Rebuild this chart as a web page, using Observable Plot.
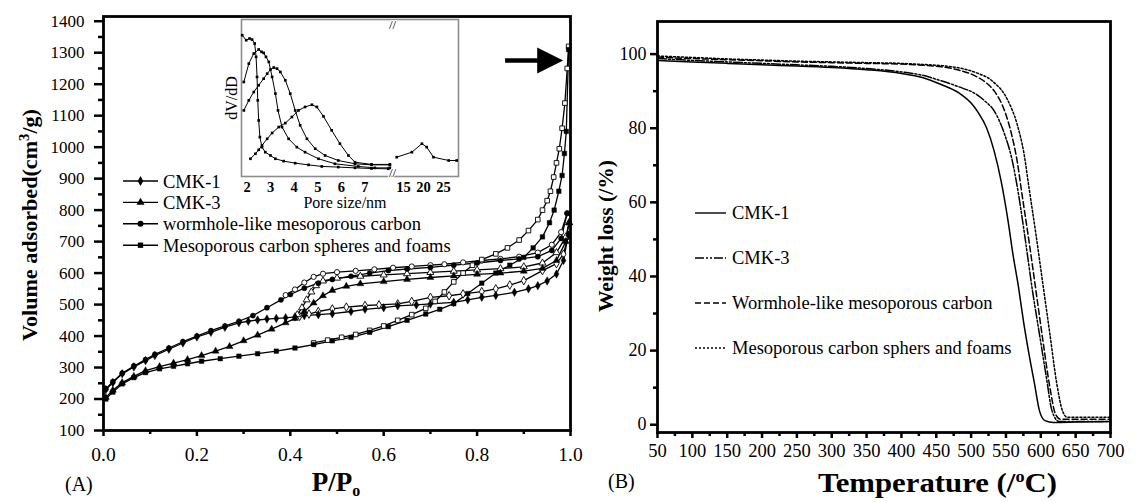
<!DOCTYPE html>
<html><head><meta charset="utf-8">
<script src="https://cdn.jsdelivr.net/npm/d3@7"></script>
<script src="https://cdn.jsdelivr.net/npm/@observablehq/plot@0.6"></script>
<style>
html,body{margin:0;padding:0;background:#fff;}
#wrap{position:relative;width:1139px;height:502px;overflow:hidden;background:#fff;}
</style></head><body><div id="wrap"></div>
<script>
// ---------- Panel A: N2 isotherms ----------
const isoNames = ["CMK-1","CMK-3","wormhole-like mesoporous carbon","Mesoporous carbon spheres and foams"];
const isoSymbols = ["diamond","triangle","circle","square"];

const cmk1AdsP = [0.005,0.02,0.04,0.065,0.09,0.11,0.14,0.17,0.2,0.23,0.26,0.29,0.31,0.33,0.35,0.37,0.39,0.41,0.43,0.46,0.49,0.53,0.56,0.6,0.63,0.67,0.7,0.75,0.78,0.81,0.84,0.88,0.91,0.93,0.95,0.97,0.985,0.995];
const cmk1AdsV = [230,252,280,302,322,338,358,378,397,412,428,442,447,451,454,456,458,461,465,468,471,478,485,490,496,499,502,507,515,523,529,539,550,560,575,597,640,720];
const cmk1DesP = [0.995,0.985,0.97,0.94,0.9,0.87,0.84,0.81,0.77,0.74,0.7,0.66,0.63,0.59,0.56,0.52,0.49,0.46,0.44,0.42];
const cmk1DesV = [720,660,630,608,576,562,550,541,534,528,523,510,502,499,497,492,486,478,470,463];

const cmk3AdsP = [0.005,0.02,0.04,0.065,0.09,0.12,0.15,0.18,0.21,0.24,0.27,0.3,0.33,0.36,0.39,0.41,0.43,0.45,0.47,0.49,0.52,0.55,0.6,0.65,0.7,0.75,0.8,0.85,0.9,0.94,0.97,0.99,0.997];
const cmk3AdsV = [205,228,252,272,290,303,314,325,338,352,367,385,403,422,442,456,478,505,528,545,558,566,573,580,586,591,596,600,606,615,640,700,760];
const cmk3DesP = [0.997,0.99,0.97,0.94,0.9,0.85,0.8,0.75,0.7,0.65,0.6,0.55,0.5,0.47,0.455,0.445,0.435,0.425,0.415];
const cmk3DesV = [760,715,665,632,620,614,610,606,602,598,594,590,584,575,560,540,515,490,468];

const wormAdsP = [0.005,0.02,0.04,0.065,0.09,0.11,0.14,0.17,0.2,0.23,0.26,0.29,0.32,0.35,0.38,0.4,0.43,0.46,0.49,0.53,0.57,0.61,0.65,0.7,0.75,0.8,0.85,0.89,0.93,0.96,0.98,0.993];
const wormAdsV = [232,255,282,305,325,342,362,382,400,417,432,447,465,490,515,532,552,568,580,590,600,608,613,618,625,632,640,645,652,672,710,790];
const wormDesP = [0.993,0.98,0.96,0.93,0.89,0.85,0.81,0.77,0.73,0.7,0.66,0.62,0.58,0.54,0.5,0.47,0.45,0.43,0.41,0.39];
const wormDesV = [790,730,690,665,652,645,640,634,628,625,621,617,612,607,603,598,588,570,548,530];

const foamAdsP = [0.005,0.02,0.04,0.065,0.09,0.12,0.15,0.18,0.21,0.25,0.29,0.33,0.37,0.41,0.45,0.49,0.53,0.57,0.61,0.65,0.69,0.72,0.75,0.78,0.81,0.84,0.87,0.9,0.92,0.94,0.955,0.965,0.975,0.982,0.987,0.991,0.996];
const foamAdsV = [200,222,248,268,284,296,304,312,320,328,336,344,352,362,373,385,396,412,430,450,470,485,503,535,568,600,625,650,680,715,760,800,860,910,980,1050,1310];
const foamDesP = [0.996,0.993,0.988,0.982,0.976,0.97,0.964,0.957,0.95,0.94,0.93,0.91,0.89,0.865,0.84,0.81,0.79,0.77,0.75,0.73,0.71,0.69,0.66,0.63,0.6,0.57,0.54,0.51,0.48,0.45];
const foamDesV = [1320,1250,1140,1060,995,950,905,860,830,800,770,735,705,680,661,643,625,600,572,540,510,488,468,450,432,418,405,396,387,378];

const xTicksA = [0,0.2,0.4,0.6,0.8,1.0];
const xMinorA = [0.1,0.3,0.5,0.7,0.9];
const yTicksA = [100,200,300,400,500,600,700,800,900,1000,1100,1200,1300,1400];
const yMinorA = [150,250,350,450,550,650,750,850,950,1050,1150,1250,1350];
const arrowP = [0.861, 0.935];   // shaft of the arrow pointing at the 1320 maximum
const arrowHeadP = 0.948;
const arrowV = 1275;

// ---------- Inset: pore size distributions ----------
const psdCmk1D = [1.79,1.96,2.10,2.21,2.32,2.38,2.42,2.45,2.49,2.54,2.63,2.77,2.99,3.20,3.55,4.04,4.61,5.17,5.87,6.58,7.28,7.99];
const psdCmk1F = [0.90,0.868,0.879,0.872,0.847,0.762,0.634,0.485,0.357,0.251,0.187,0.155,0.134,0.113,0.098,0.085,0.074,0.064,0.060,0.055,0.051,0.049];
const psdWormD = [1.86,2.07,2.28,2.49,2.61,2.70,2.80,2.92,3.06,3.20,3.31,3.48,3.76,4.11,4.46,5.03,5.73,6.72,7.42,8.06];
const psdWormF = [0.602,0.719,0.783,0.809,0.794,0.787,0.762,0.730,0.634,0.528,0.421,0.315,0.240,0.187,0.155,0.113,0.081,0.064,0.055,0.055];
const psdCmk3D = [1.86,2.07,2.28,2.49,2.70,2.85,2.99,3.13,3.27,3.41,3.62,3.83,4.04,4.25,4.54,4.89,5.31,5.87,6.58,7.28,8.06];
const psdCmk3F = [0.421,0.485,0.538,0.581,0.623,0.655,0.681,0.694,0.687,0.666,0.613,0.528,0.421,0.326,0.240,0.177,0.134,0.102,0.081,0.074,0.074];
const psdFoamD = [2.14,2.35,2.49,2.63,2.85,3.06,3.34,3.62,3.90,4.18,4.46,4.75,4.96,5.24,5.59,5.94,6.30,6.58,7.28,8.06];
const psdFoamF = [0.113,0.145,0.170,0.198,0.240,0.277,0.315,0.340,0.379,0.421,0.443,0.457,0.443,0.383,0.294,0.209,0.134,0.091,0.077,0.077];
const psdFoamLargeD = [13.3,17.1,19.6,20.8,22.5,26.3,28.3];
const psdFoamLargeF = [0.123,0.155,0.209,0.187,0.123,0.102,0.102];
const insetTicks = [2,3,4,5,6,7,15,20,25];
const insetDomain = [1.76, 8.13, 12.5, 28.75];   // broken axis: 1.76–8.13 nm | 12.5–28.75 nm

// ---------- Panel B: TGA ----------
const tgaNames = ["CMK-1","CMK-3","Wormhole-like mesoporous carbon","Mesoporous carbon sphers and foams"];
const tgaDash = ["none","9,2,2,2,2,2","6,3","2,2"];
const cmk1T = [50,100,150,200,250,300,350,400,430,457,482,500,510,522,533,543,553,560,568,575,583,591,598,606,618,650,700];
const cmk1W = [98.3,97.9,97.5,97.1,96.8,96.4,95.8,94.8,93.7,91.8,89.6,86.8,84.3,80.2,73.9,65.8,55.0,46.0,37.1,28.1,19.1,11.0,3.8,1.1,0.6,0.7,0.9];
const cmk3T = [50,100,150,200,250,300,350,400,430,457,482,507,520,533,548,558,568,578,588,598,608,616,626,650,700];
const cmk3W = [98.8,98.3,97.9,97.5,97.1,96.7,96.1,95.2,94.3,92.8,91.2,89.2,87.3,84.7,78.4,72.1,62.2,49.6,36.2,24.5,12.8,3.8,0.9,0.9,0.9];
const wormT = [50,100,150,200,250,300,350,400,432,457,482,507,520,533,548,558,566,573,583,593,603,613,621,628,650,700];
const wormW = [99.2,98.8,98.5,98.2,97.9,97.7,97.5,97.3,97.0,96.6,95.7,94.0,92.5,90.1,84.7,78.4,71.2,62.2,49.6,36.2,22.7,10.1,2.9,1.5,1.5,1.5];
const foamT = [50,100,150,200,250,300,350,400,432,457,482,507,530,553,566,576,583,593,603,613,623,631,638,660,700];
const foamW = [99.5,99.1,98.7,98.4,98.1,97.9,97.7,97.5,97.2,96.9,96.3,95.0,92.8,87.4,81.1,73.0,64.0,51.4,37.9,24.5,11.0,3.8,2.0,2.0,2.0];
const xTicksB = [50,100,150,200,250,300,350,400,450,500,550,600,650,700];
const xMinorB = [75,125,175,225,275,325,375,425,475,525,575,625,675];
const yTicksB = [0,20,40,60,80,100];
const yMinorB = [10,30,50,70,90];

// ---------- build tables ----------
const SERIF = "'Liberation Serif','Times New Roman',serif";
const branch = (series, kind, P, V) => P.map((p, i) => ({series, branch: kind, key: series + "|" + kind, p, v: V[i]}));
const isoData = [
  ...branch(isoNames[0], "ads", cmk1AdsP, cmk1AdsV), ...branch(isoNames[0], "des", cmk1DesP, cmk1DesV),
  ...branch(isoNames[1], "ads", cmk3AdsP, cmk3AdsV), ...branch(isoNames[1], "des", cmk3DesP, cmk3DesV),
  ...branch(isoNames[2], "ads", wormAdsP, wormAdsV), ...branch(isoNames[2], "des", wormDesP, wormDesV),
  ...branch(isoNames[3], "ads", foamAdsP, foamAdsV), ...branch(isoNames[3], "des", foamDesP, foamDesV)
];
const psd = (key, D, F) => D.map((d, i) => ({key, d, f: F[i]}));
const psdData = [
  ...psd("cmk1", psdCmk1D, psdCmk1F), ...psd("worm", psdWormD, psdWormF),
  ...psd("cmk3", psdCmk3D, psdCmk3F), ...psd("foam", psdFoamD, psdFoamF),
  ...psd("foamLarge", psdFoamLargeD, psdFoamLargeF)
];
const tgaSeries = [[cmk1T, cmk1W], [cmk3T, cmk3W], [wormT, wormW], [foamT, foamW]]
  .map(([T, W], k) => T.map((t, i) => ({series: tgaNames[k], t, w: W[i]})));

const arrowSymbol = {draw(ctx) { ctx.moveTo(17, 0); ctx.lineTo(-9, -13); ctx.lineTo(-9, 13); ctx.closePath(); }};
const blank = () => "";

const wrap = document.getElementById("wrap");
function place(el, left, top) {
  el.style.position = "absolute"; el.style.left = left + "px"; el.style.top = top + "px";
  wrap.appendChild(el);
}

// ---------- Panel A ----------
const plotA = Plot.plot({
  width: 580, height: 502,
  marginLeft: 103, marginRight: 10, marginTop: 16, marginBottom: 72,
  style: {fontFamily: SERIF, color: "black", background: "transparent", overflow: "visible"},
  x: {domain: [0, 1]},
  y: {domain: [100, 1415]},
  symbol: {domain: isoNames, range: isoSymbols},
  marks: [
    Plot.line(isoData, {x: "p", y: "v", z: "key", stroke: "black", strokeWidth: 1.3}),
    Plot.dot(isoData.filter(d => d.branch === "des"), {x: "p", y: "v", symbol: "series", r: 2.6, fill: "white", stroke: "black", strokeWidth: 0.9}),
    Plot.dot(isoData.filter(d => d.branch === "ads"), {x: "p", y: "v", symbol: "series", r: 2.6, fill: "black", stroke: "black", strokeWidth: 0.4}),
    Plot.ruleY([arrowV], {x1: arrowP[0], x2: arrowP[1], strokeWidth: 4.5, stroke: "black"}),
    Plot.dot([{p: arrowHeadP, v: arrowV}], {x: "p", y: "v", symbol: arrowSymbol, fill: "black", stroke: "none"}),
    Plot.axisX({ticks: xTicksA, tickSize: 6, tickPadding: 11, strokeWidth: 2.5, fontSize: 19.5, tickFormat: d3.format(".1f"), label: null}),
    Plot.axisX({ticks: xMinorA, tickSize: 4, strokeWidth: 2.5, tickFormat: blank, label: null}),
    Plot.axisY({ticks: yTicksA, tickSize: 9, tickPadding: 10, strokeWidth: 2.5, fontSize: 17, tickFormat: d3.format("d"), label: null}),
    Plot.axisY({ticks: yMinorA, tickSize: 5, strokeWidth: 2.5, tickFormat: blank, label: null}),
    Plot.frame({stroke: "black", strokeWidth: 2.8})
  ]
});
place(plotA, 0, 0);

// ---------- Inset ----------
const inset = Plot.plot({
  width: 260, height: 200,
  marginLeft: 30, marginRight: 13, marginTop: 9, marginBottom: 34,
  style: {fontFamily: SERIF, color: "black", background: "transparent", overflow: "visible"},
  x: {type: "linear", domain: insetDomain, range: [30, 180, 182, 247]},
  y: {domain: [0, 1], axis: null},
  marks: [
    Plot.frame({fill: "white", stroke: "#8c8c8c", strokeWidth: 1.6}),
    Plot.line(psdData, {x: "d", y: "f", z: "key", stroke: "black", strokeWidth: 1}),
    Plot.dot(psdData, {x: "d", y: "f", symbol: "square", r: 1.5, fill: "black"}),
    Plot.axisX({ticks: insetTicks, tickSize: 0, tickPadding: 5, fontSize: 14.5, fontWeight: "bold", label: null}),
    Plot.text([insetDomain[1]], {x: d => d, frameAnchor: "top", text: () => "//", dx: 1, fontSize: 13, fill: "black", stroke: "white", strokeWidth: 2}),
    Plot.text([insetDomain[1]], {x: d => d, frameAnchor: "bottom", text: () => "//", dx: 1, fontSize: 13, fill: "black", stroke: "white", strokeWidth: 2})
  ]
});
place(inset, 211, 10);

// ---------- Panel B ----------
const plotB = Plot.plot({
  width: 559, height: 502,
  marginLeft: 77, marginRight: 29, marginTop: 21, marginBottom: 70,
  style: {fontFamily: SERIF, color: "black", background: "transparent", overflow: "visible"},
  x: {domain: [50, 700]},
  y: {domain: [-2.1, 108.8]},
  marks: [
    ...tgaSeries.map((rows, k) => Plot.line(rows, {x: "t", y: "w", stroke: "black", strokeWidth: 1.5, strokeDasharray: tgaDash[k], curve: "monotone-x"})),
    Plot.axisX({ticks: xTicksB, tickSize: 6, tickPadding: 5, strokeWidth: 2.5, fontSize: 18.5, tickFormat: d3.format("d"), label: null}),
    Plot.axisX({ticks: xMinorB, tickSize: 4, strokeWidth: 2.5, tickFormat: blank, label: null}),
    Plot.axisY({ticks: yTicksB, tickSize: 7, tickPadding: 4, strokeWidth: 2.5, fontSize: 18, tickFormat: d3.format("d"), label: null}),
    Plot.axisY({ticks: yMinorB, tickSize: 4, strokeWidth: 2.5, tickFormat: blank, label: null}),
    Plot.frame({stroke: "black", strokeWidth: 2.8})
  ]
});
place(plotB, 580, 0);

// ---------- Titles and legends (overlay) ----------
const NS = "http://www.w3.org/2000/svg";
const ov = document.createElementNS(NS, "svg");
ov.setAttribute("width", 1139); ov.setAttribute("height", 502);
ov.style.pointerEvents = "none";
ov.setAttribute("font-family", SERIF);
const d3Sym = {diamond: d3.symbolDiamond, triangle: d3.symbolTriangle, circle: d3.symbolCircle, square: d3.symbolSquare};
const sym = (name, r) => d3.symbol(d3Sym[isoSymbols[isoNames.indexOf(name)]], r * r * Math.PI)();
let html = "";
// Panel A titles
html += `<text x="65" y="491" font-size="20">(A)</text>`;
html += `<text x="336" y="491" font-size="27" font-weight="bold" text-anchor="middle">P/P<tspan dy="5" font-size="16">o</tspan></text>`;
html += `<text transform="translate(37,225) rotate(-90)" text-anchor="middle" font-size="21" font-weight="bold" textLength="232" lengthAdjust="spacingAndGlyphs">Volume adsorbed(cm<tspan dy="-8" font-size="14">3</tspan><tspan dy="8">/g)</tspan></text>`;
// Panel A legend
isoNames.forEach((name, i) => {
  const cy = 181 + i * 21.4;
  html += `<line x1="123" x2="158" y1="${cy}" y2="${cy}" stroke="black" stroke-width="1.4"/>`;
  html += `<path transform="translate(140.5,${cy})" d="${sym(name, 3)}" fill="black"/>`;
  html += `<text x="163" y="${cy + 6.5}" font-size="18.5">${name}</text>`;
});
// Inset labels
html += `<text x="345" y="208" font-size="16" text-anchor="middle">Pore size/nm</text>`;
html += `<text transform="translate(237,98) rotate(-90)" text-anchor="middle" font-size="16">dV/dD</text>`;
// Panel B titles
html += `<text x="608" y="488" font-size="20">(B)</text>`;
html += `<text x="818" y="492" font-size="27" font-weight="bold" textLength="239" lengthAdjust="spacingAndGlyphs">Temperature (/<tspan dy="-10" font-size="16">o</tspan><tspan dy="10">C)</tspan></text>`;
html += `<text transform="translate(613,236) rotate(-90)" text-anchor="middle" font-size="20" font-weight="bold" textLength="152" lengthAdjust="spacingAndGlyphs">Weight loss (/%)</text>`;
// Panel B legend
tgaNames.forEach((name, i) => {
  const cy = 213 + i * 45;
  html += `<line x1="695" x2="726" y1="${cy}" y2="${cy}" stroke="black" stroke-width="1.4" stroke-dasharray="${tgaDash[i]}"/>`;
  html += `<text x="732" y="${cy + 6}" font-size="18.5">${name}</text>`;
});
ov.innerHTML = html;
place(ov, 0, 0);
</script>
</body></html>
